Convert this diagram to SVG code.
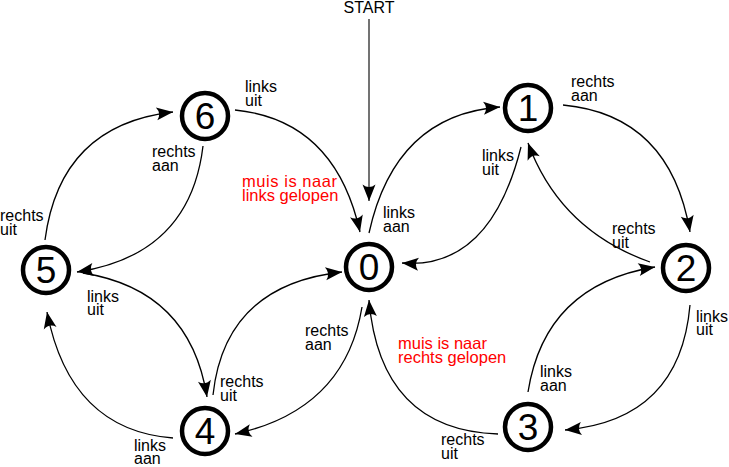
<svg xmlns="http://www.w3.org/2000/svg" width="729" height="467" viewBox="0 0 729 467">
<defs>
<style>
.node circle{fill:#fff;stroke:#000;stroke-width:4.5}
.node text{font-family:"Liberation Sans",Arial,sans-serif;font-size:37px;text-anchor:middle;fill:#000}
.edge{fill:none;stroke:#000;stroke-width:1.3;marker-end:url(#ah)}
.lbl{font-family:"Liberation Sans",Arial,sans-serif;font-size:16px;fill:#000}
.red{fill:#ff0000;font-size:16.5px}
</style>
<marker id="ah" markerUnits="userSpaceOnUse" markerWidth="19" markerHeight="14" refX="17" refY="7" orient="auto" viewBox="0 0 19 14">
<path d="M17,7 L0.5,0.5 Q5.5,7 0.5,13.5 Z" fill="#000"/>
</marker>
</defs>
<rect width="729" height="467" fill="#fff"/>
<g id="connectors">
<path class="edge" d="M369,19 L369,201" style="stroke:#444;stroke-width:1.5"/>
<path class="edge" d="M235,110 Q335,120 360,232"/>
<path class="edge" d="M369,233 Q395,115 500,107"/>
<path class="edge" d="M563,105 Q670,115 690,232"/>
<path class="edge" d="M521,147 Q490,270 402,263"/>
<path class="edge" d="M650,262 Q560,230 528,143"/>
<path class="edge" d="M690,305 Q680,420 565,430"/>
<path class="edge" d="M528,392 Q545,285 655,267"/>
<path class="edge" d="M498,434 Q380,430 369,300"/>
<path class="edge" d="M362,307 Q345,410 235,434"/>
<path class="edge" d="M213,395 Q225,285 342,272"/>
<path class="edge" d="M83,273 Q190,290 207,397"/>
<path class="edge" d="M173,438 Q70,430 47,312"/>
<path class="edge" d="M45,240 Q60,125 173,112"/>
<path class="edge" d="M203,146 Q190,255 77,272"/>
</g>
<g id="node0" class="node"><circle cx="369" cy="267" r="23"/><text x="369" y="280">0</text></g>
<g id="node1" class="node"><circle cx="528" cy="108" r="23"/><text x="528" y="121">1</text></g>
<g id="node2" class="node"><circle cx="686" cy="268" r="23"/><text x="686" y="281">2</text></g>
<g id="node3" class="node"><circle cx="528" cy="427" r="23"/><text x="528" y="440">3</text></g>
<g id="node4" class="node"><circle cx="205" cy="431" r="23"/><text x="205" y="444">4</text></g>
<g id="node5" class="node"><circle cx="46" cy="270" r="23"/><text x="46" y="283">5</text></g>
<g id="node6" class="node"><circle cx="205" cy="116" r="23"/><text x="205" y="129">6</text></g>
<g id="labels">
<text class="lbl" x="369" y="12.5" text-anchor="middle">START</text>
<text class="lbl" x="245" y="92">links<tspan x="245" dy="13.5">uit</tspan></text>
<text class="lbl red" x="242" y="187"><tspan textLength="95">muis is naar</tspan><tspan x="242" dy="14">links gelopen</tspan></text>
<text class="lbl" x="152" y="157">rechts<tspan x="152" dy="13.5">aan</tspan></text>
<text class="lbl" x="571" y="87">rechts<tspan x="571" dy="13.5">aan</tspan></text>
<text class="lbl" x="482" y="161">links<tspan x="482" dy="13.5">uit</tspan></text>
<text class="lbl" x="383" y="218">links<tspan x="383" dy="13.5">aan</tspan></text>
<text class="lbl" x="612" y="234">rechts<tspan x="612" dy="13.5">uit</tspan></text>
<text class="lbl" x="696" y="322">links<tspan x="696" dy="13">uit</tspan></text>
<text class="lbl" x="540" y="377">links<tspan x="540" dy="13.5">aan</tspan></text>
<text class="lbl red" x="398" y="349">muis is naar<tspan x="398" dy="14">rechts gelopen</tspan></text>
<text class="lbl" x="441" y="445">rechts<tspan x="441" dy="13.5">uit</tspan></text>
<text class="lbl" x="305" y="336">rechts<tspan x="305" dy="13.5">aan</tspan></text>
<text class="lbl" x="220" y="387">rechts<tspan x="220" dy="13.5">uit</tspan></text>
<text class="lbl" x="134" y="451">links<tspan x="134" dy="13">aan</tspan></text>
<text class="lbl" x="0" y="221">rechts<tspan x="0" dy="13.5">uit</tspan></text>
<text class="lbl" x="87" y="302">links<tspan x="87" dy="13">uit</tspan></text>
</g>
</svg>
